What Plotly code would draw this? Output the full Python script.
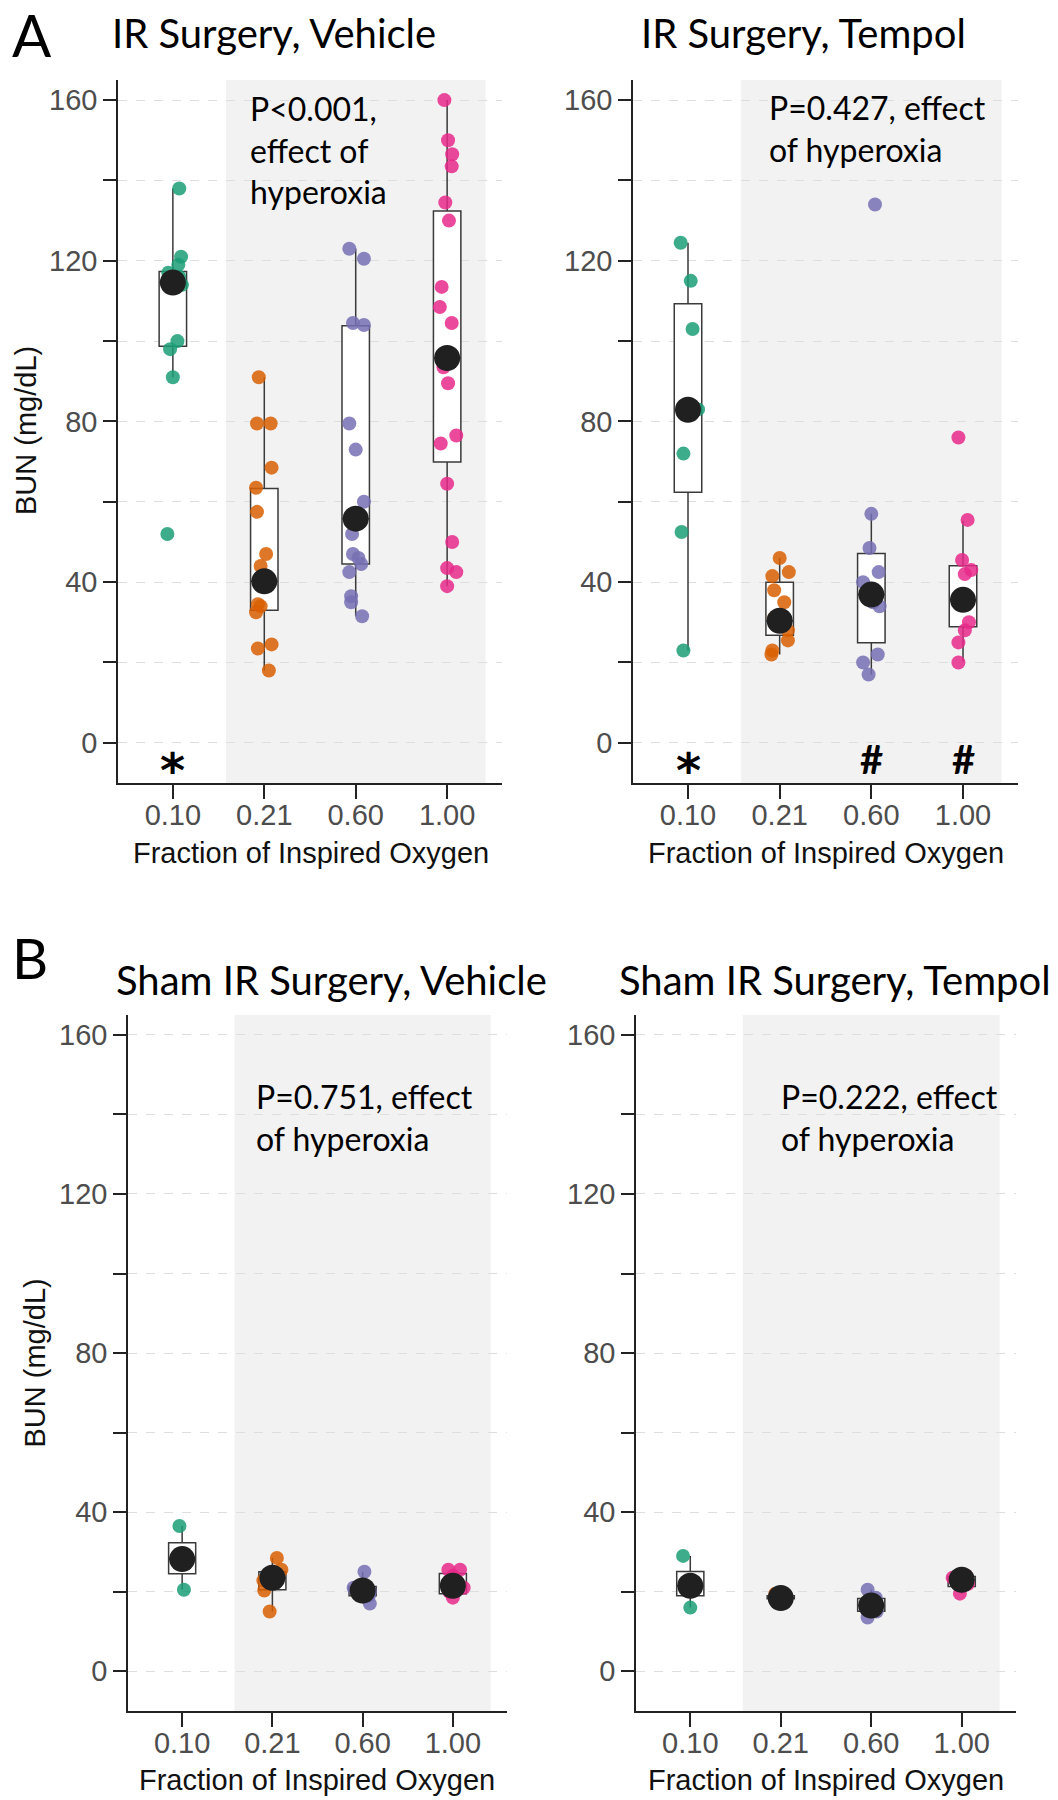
import plotly.graph_objects as go

# ---------------- data ----------------
categories = ["0.10", "0.21", "0.60", "1.00"]
colors = ["#1B9E77", "#D95F02", "#7570B3", "#E7298A"]

# IR Surgery, Vehicle
irv_010 = [138, 121, 119, 117, 116, 114, 100, 98, 91, 52]
irv_010_dx = [0.07, 0.09, 0.06, -0.05, 0.07, 0.10, 0.05, -0.03, 0.0, -0.06]
irv_021 = [91, 79.5, 79.5, 68.5, 63.5, 57.5, 47, 44, 40, 34.5, 34, 32.5, 24.5, 23.5, 18]
irv_021_dx = [-0.06, -0.08, 0.07, 0.08, -0.09, -0.08, 0.02, -0.04, 0.0, -0.07, -0.04, -0.09, 0.08, -0.07, 0.05]
irv_060 = [123, 120.5, 104.5, 104, 79.5, 73, 60, 52, 47, 46, 44.5, 42.5, 36.5, 35, 31.5]
irv_060_dx = [-0.07, 0.09, -0.03, 0.09, -0.07, 0.0, 0.09, -0.04, -0.03, 0.03, 0.06, -0.07, -0.05, -0.05, 0.07]
irv_100 = [160, 150, 146.5, 143.5, 134.5, 130, 113.5, 108.5, 104.5, 93.5, 89.5, 76.5, 74.5, 64.5, 50, 43.5, 42.5, 39]
irv_100_dx = [-0.03, 0.01, 0.055, 0.05, -0.02, 0.02, -0.06, -0.08, 0.05, -0.04, 0.01, 0.10, -0.07, 0.0, 0.055, 0.0, 0.10, 0.0]
irv_q1 = [98.7, 33.0, 44.5, 69.9]
irv_med = [114.6, 40.2, 55.8, 95.8]
irv_q3 = [117.3, 63.3, 103.8, 132.4]
irv_lo = [91, 18, 31.5, 39]
irv_hi = [138, 91, 123, 160]

# IR Surgery, Tempol
irt_010 = [124.5, 115, 103, 83, 72, 52.5, 23]
irt_010_dx = [-0.08, 0.03, 0.05, 0.11, -0.05, -0.07, -0.05]
irt_021 = [46, 42.5, 41.5, 38, 35, 31, 30, 28, 25.5, 23, 22]
irt_021_dx = [0.0, 0.10, -0.08, -0.06, 0.05, -0.06, 0.03, 0.09, 0.09, -0.08, -0.09]
irt_060 = [134, 57, 48.5, 42.5, 40, 37, 35, 34, 22, 20, 17]
irt_060_dx = [0.04, 0.0, -0.02, 0.08, -0.09, 0.0, 0.02, 0.09, 0.07, -0.09, -0.03]
irt_100 = [76, 55.5, 45.5, 43, 42, 35.5, 30, 28, 25, 20]
irt_100_dx = [-0.05, 0.05, -0.01, 0.09, 0.02, 0.0, 0.065, 0.02, -0.05, -0.05]
irt_q1 = [62.4, 26.8, 24.9, 28.9]
irt_med = [82.9, 30.4, 36.9, 35.6]
irt_q3 = [109.3, 40.0, 47.1, 44.1]
irt_lo = [23, 22, 17, 20.3]
irt_hi = [124.5, 46, 57, 55.3]

# Sham IR Surgery, Vehicle
shv_010 = [36.5, 28, 20.5]
shv_010_dx = [-0.03, 0.0, 0.02]
shv_021 = [28.5, 25.5, 23.5, 22.8, 20.3, 15]
shv_021_dx = [0.05, 0.10, 0.0, -0.10, -0.09, -0.03]
shv_060 = [25, 21, 20.5, 20, 19, 17]
shv_060_dx = [0.02, -0.10, 0.0, 0.08, 0.07, 0.08]
shv_100 = [25.5, 25.5, 24, 21.5, 21, 20, 18.5]
shv_100_dx = [-0.05, 0.08, 0.0, 0.0, 0.12, -0.04, 0.0]
shv_q1 = [24.5, 20.5, 19.0, 19.5]
shv_med = [28.2, 23.5, 20.3, 21.5]
shv_q3 = [32.3, 25.0, 21.3, 24.6]
shv_lo = [20.5, 15, 17, 18.5]
shv_hi = [36.5, 28.5, 25, 25.5]

# Sham IR Surgery, Tempol
sht_010 = [29, 21.5, 16]
sht_010_dx = [-0.08, 0.0, 0.0]
sht_021 = [19.5, 19, 18.5, 18.5, 18, 18]
sht_021_dx = [-0.06, 0.03, -0.04, 0.05, 0.0, -0.02]
sht_060 = [20.5, 18.5, 17, 16.5, 15, 13.5]
sht_060_dx = [-0.04, 0.05, -0.06, 0.02, 0.06, -0.04]
sht_100 = [24, 23.5, 23, 22, 19.5]
sht_100_dx = [0.05, -0.10, 0.0, 0.07, -0.02]
sht_q1 = [19.0, 18.2, 15.1, 21.3]
sht_med = [21.5, 18.4, 16.5, 23.0]
sht_q3 = [25.1, 19.0, 18.3, 23.8]
sht_lo = [16, 18, 13.5, 19.5]
sht_hi = [29, 19.5, 20.5, 24]

panel_titles = ["IR Surgery, Vehicle", "IR Surgery, Tempol",
                "Sham IR Surgery, Vehicle", "Sham IR Surgery, Tempol"]
p_texts = ["P<0.001,<br>effect of<br>hyperoxia", "P=0.427, effect<br>of hyperoxia",
           "P=0.751, effect<br>of hyperoxia", "P=0.222, effect<br>of hyperoxia"]
y_ticks = [0, 20, 40, 60, 80, 100, 120, 140, 160]
y_ticktext = ["0", "", "40", "", "80", "", "120", "", "160"]

panels = [
    dict(pts=[irv_010, irv_021, irv_060, irv_100], dx=[irv_010_dx, irv_021_dx, irv_060_dx, irv_100_dx],
         q1=irv_q1, med=irv_med, q3=irv_q3, lo=irv_lo, hi=irv_hi),
    dict(pts=[irt_010, irt_021, irt_060, irt_100], dx=[irt_010_dx, irt_021_dx, irt_060_dx, irt_100_dx],
         q1=irt_q1, med=irt_med, q3=irt_q3, lo=irt_lo, hi=irt_hi),
    dict(pts=[shv_010, shv_021, shv_060, shv_100], dx=[shv_010_dx, shv_021_dx, shv_060_dx, shv_100_dx],
         q1=shv_q1, med=shv_med, q3=shv_q3, lo=shv_lo, hi=shv_hi),
    dict(pts=[sht_010, sht_021, sht_060, sht_100], dx=[sht_010_dx, sht_021_dx, sht_060_dx, sht_100_dx],
         q1=sht_q1, med=sht_med, q3=sht_q3, lo=sht_lo, hi=sht_hi),
]

# ---------------- layout geometry (page pixels; page body has an 8px margin) ----------------
W, H = 1058, 1800
OFF = 8


def px(xp):
    return (xp - OFF) / W


def py(yp):
    return 1 - (yp - OFF) / H


x_domains = [(118, 502), (633, 1018), (128, 507), (636, 1016)]
y_domains = [(80, 783), (80, 783), (1015, 1711), (1015, 1711)]

TICK_FONT = dict(family="Liberation Sans, Arial, sans-serif", size=29, color="#4d4d4d")
LABEL_FONT = dict(family="Liberation Sans, Arial, sans-serif", size=29, color="#111111")
TEXT_FONT = "Lato, Calibri, sans-serif"

fig = go.Figure()
cat_pos = list(range(len(categories)))

for i, p in enumerate(panels):
    n = "" if i == 0 else str(i + 1)
    xa, ya = "x" + n, "y" + n
    fig.add_trace(go.Box(
        x=cat_pos, q1=p["q1"], median=p["med"], q3=p["q3"],
        lowerfence=p["lo"], upperfence=p["hi"],
        width=0.3, whiskerwidth=0, boxpoints=False,
        fillcolor="white", line=dict(color="#3a3a3a", width=1.5),
        xaxis=xa, yaxis=ya, showlegend=False, hoverinfo="skip"))
    for c, (vals, offs) in enumerate(zip(p["pts"], p["dx"])):
        fig.add_trace(go.Scatter(
            x=[c + o for o in offs], y=vals, mode="markers",
            marker=dict(size=14, color=colors[c], opacity=0.85, line=dict(width=0)),
            xaxis=xa, yaxis=ya, showlegend=False, hoverinfo="skip"))
    fig.add_trace(go.Scatter(
        x=cat_pos, y=p["med"], mode="markers",
        marker=dict(size=26, color="#202020", line=dict(width=0)),
        xaxis=xa, yaxis=ya, showlegend=False, hoverinfo="skip"))

    # shaded hyperoxia region
    fig.add_shape(type="rect", xref=xa, yref=ya, x0=0.58, x1=3.42, y0=-10, y1=165,
                  fillcolor="#f2f2f2", line=dict(width=0), layer="below")

    x0, x1 = x_domains[i]
    yt, yb = y_domains[i]
    fig.layout["xaxis" + n] = dict(
        domain=[px(x0), px(x1)], anchor=ya, range=[-0.6, 3.6],
        tickvals=cat_pos, ticktext=categories, tickfont=TICK_FONT,
        showline=True, linecolor="#222222", linewidth=1.5,
        ticks="outside", ticklen=14, tickwidth=1.5, tickcolor="#222222",
        ticklabelstandoff=-9,
        showgrid=False, zeroline=False, fixedrange=True)
    fig.layout["yaxis" + n] = dict(
        domain=[py(yb), py(yt)], anchor=xa, range=[-10, 165],
        tickvals=y_ticks, ticktext=y_ticktext, tickfont=TICK_FONT,
        showline=True, linecolor="#222222", linewidth=1.5,
        ticks="outside", ticklen=13, tickwidth=1.5, tickcolor="#222222",
        showgrid=True, gridcolor="#dedede", gridwidth=1, griddash="dash",
        zeroline=False, fixedrange=True)

anns = []
# panel titles
title_pos = [(274, 33.5), (803, 33.5), (331.5, 980), (834.5, 980)]
for t, (cx, cy) in zip(panel_titles, title_pos):
    anns.append(dict(text=t, x=px(cx), y=py(cy), xref="paper", yref="paper",
                     xanchor="center", yanchor="middle", showarrow=False,
                     font=dict(family=TEXT_FONT, size=40, color="black")))
# panel letters
anns.append(dict(text="A", x=px(10), y=py(34), xref="paper", yref="paper",
                 xanchor="left", yanchor="middle", showarrow=False,
                 font=dict(family=TEXT_FONT, size=58, color="black")))
anns.append(dict(text="B", x=px(10), y=py(957), xref="paper", yref="paper",
                 xanchor="left", yanchor="middle", showarrow=False,
                 font=dict(family=TEXT_FONT, size=56, color="black")))
# p-value texts
p_pos = [(248, 150), (767, 128.6), (254, 1117), (779, 1117)]
for t, (lx, cy) in zip(p_texts, p_pos):
    anns.append(dict(text=t, x=px(lx), y=py(cy), xref="paper", yref="paper",
                     xanchor="left", yanchor="middle", align="left", showarrow=False,
                     font=dict(family=TEXT_FONT, size=32, color="black")))
# axis titles
xt_pos = [(311, 853), (825.5, 853), (316.5, 1779.5), (826, 1779.5)]
for cx, cy in xt_pos:
    anns.append(dict(text="Fraction of Inspired Oxygen", x=px(cx), y=py(cy),
                     xref="paper", yref="paper", xanchor="center", yanchor="middle",
                     showarrow=False, font=LABEL_FONT))
for cx, cy in [(26, 431), (34.5, 1363)]:
    anns.append(dict(text="BUN (mg/dL)", x=px(cx), y=py(cy), textangle=-90,
                     xref="paper", yref="paper", xanchor="center", yanchor="middle",
                     showarrow=False, font=LABEL_FONT))
# significance symbols
sym = [("x", "y", 0, "*"), ("x2", "y2", 0, "*"), ("x2", "y2", 2, "#"), ("x2", "y2", 3, "#")]
for xa, ya, cx, s in sym:
    is_star = s == "*"
    if is_star:
        f = dict(family="DejaVu Sans, sans-serif", size=48, color="black")
    else:
        f = dict(family=TEXT_FONT, size=40, color="black")
    anns.append(dict(text="<b>" + s + "</b>", x=cx, y=-3.9, xref=xa, yref=ya,
                     xanchor="center", yanchor="middle", showarrow=False,
                     yshift=-11 if is_star else 0, font=f))

fig.update_layout(width=W, height=H, margin=dict(l=0, r=0, t=0, b=0),
                  paper_bgcolor="white", plot_bgcolor="white",
                  showlegend=False, annotations=anns)

fig.write_html("out.html")
